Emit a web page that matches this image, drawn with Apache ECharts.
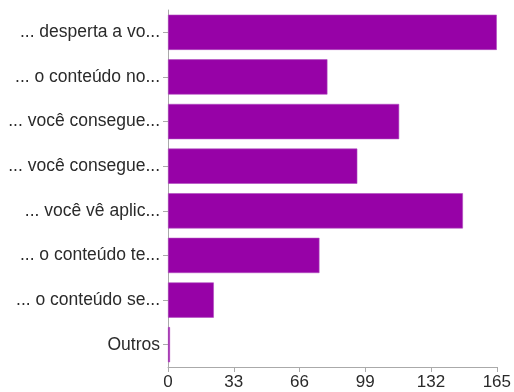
<!DOCTYPE html>
<html><head><meta charset="utf-8">
<script src="https://cdn.jsdelivr.net/npm/echarts@6/dist/echarts.min.js"></script>
<style>html,body{margin:0;padding:0;background:#fff}#c{width:514px;height:392px}</style>
</head><body><div id="c"></div>
<script>
const categories = ["... desperta a vo...", "... o conteúdo no...", "... você consegue...", "... você consegue...", "... você vê aplic...", "... o conteúdo te...", "... o conteúdo se...", "Outros"];
const values = [165, 80, 116, 95, 148, 76, 23, 1];
const xTicks = [0, 33, 66, 99, 132, 165];

const chart = echarts.init(document.getElementById('c'), null, {renderer: 'canvas'});
chart.setOption({
  animation: false,
  grid: {left: 168, right: 16, top: 10, bottom: 25, containLabel: false},
  xAxis: {
    type: 'value', min: xTicks[0], max: xTicks[xTicks.length - 1], interval: 33,
    axisLine: {show: true, lineStyle: {color: '#aaa', width: 1}},
    axisTick: {show: true, length: 5, lineStyle: {color: '#aaa'}},
    splitLine: {show: false},
    axisLabel: {color: '#2a2a2a', fontSize: 17, fontFamily: 'Liberation Sans', margin: 7}
  },
  yAxis: {
    type: 'category', data: categories, inverse: true,
    axisLine: {show: true, lineStyle: {color: '#aaa', width: 1}},
    axisTick: {show: true, alignWithLabel: true, length: 5, lineStyle: {color: '#aaa'}},
    axisLabel: {color: '#2a2a2a', fontSize: 17.5, fontFamily: 'Liberation Sans', margin: 8}
  },
  series: [{
    type: 'bar', data: values, barCategoryGap: '21%',
    itemStyle: {color: '#9702a7', borderColor: '#b04cc0', borderWidth: 0.6}
  }]
});
</script></body></html>
